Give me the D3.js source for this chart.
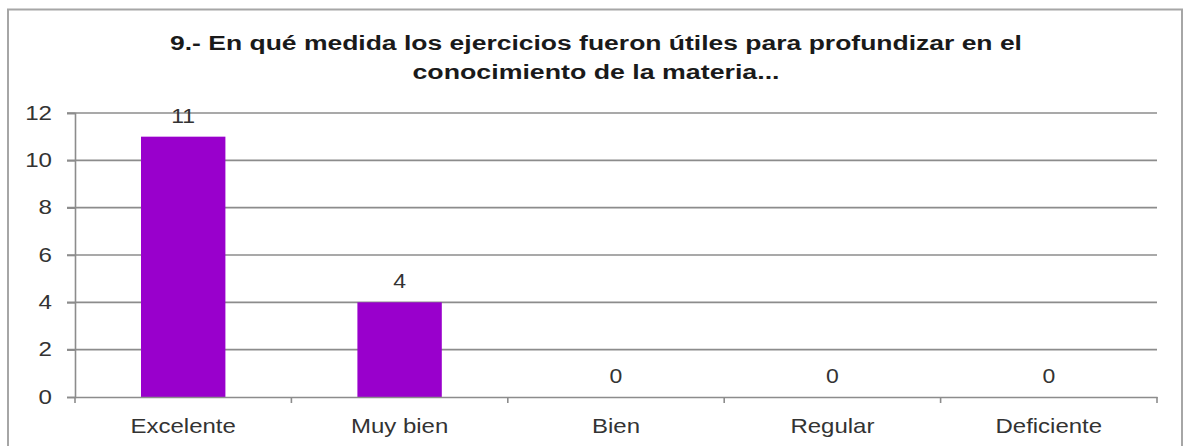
<!DOCTYPE html>
<html><head><meta charset="utf-8">
<script src="https://cdn.jsdelivr.net/npm/d3@7"></script>
<style>
html,body{margin:0;padding:0;background:#fff;}
svg{display:block;font-family:"Liberation Sans",Arial,sans-serif;}
</style></head>
<body>
<svg id="chart" width="1183" height="446"></svg>
<script>
const titleLines = ["9.- En qué medida los ejercicios fueron útiles para profundizar en el", "conocimiento de la materia..."];
const categories = ["Excelente", "Muy bien", "Bien", "Regular", "Deficiente"];
const values = [11, 4, 0, 0, 0];
const yTicks = [0, 2, 4, 6, 8, 10, 12];

const svg = d3.select("#chart");
const W = 1183, H = 446;
const margin = {left: 75, right: 26, top: 113, bottom: 49};
const x0 = margin.left, x1 = W - margin.right, y0 = H - margin.bottom, y1 = margin.top;

// outer frame
svg.append("rect").attr("x", 8).attr("y", 9.5).attr("width", 1174).attr("height", 450)
  .attr("fill", "none").attr("stroke", "#a6a6a6").attr("stroke-width", 2);

const x = d3.scaleBand().domain(categories).range([x0, x1]).paddingInner(0).paddingOuter(0);
const y = d3.scaleLinear().domain([0, 12]).range([y0, y1]);

// gridlines
svg.append("g").selectAll("line").data(yTicks.filter(d => d > 0)).join("line")
  .attr("x1", x0 - 8).attr("x2", x1).attr("y1", d => y(d)).attr("y2", d => y(d))
  .attr("stroke", "#8c8c8c").attr("stroke-width", 1.6);

// y axis
const yAxis = svg.append("g").attr("transform", `translate(${x0},0)`)
  .call(d3.axisLeft(y).tickValues(yTicks).tickSize(8).tickPadding(12).tickFormat(d3.format("d")));
yAxis.select(".domain").attr("stroke", "#8c8c8c").attr("stroke-width", 1.6);
yAxis.selectAll(".tick line").attr("stroke", "#8c8c8c").attr("stroke-width", 1.6);
yAxis.selectAll(".tick text").attr("fill", "#333").attr("font-size", 21)
  .attr("transform", "scale(1.15,1)").attr("dy", "0.3em");

// bars
const barW = x.bandwidth() * 0.39;
svg.append("g").selectAll("rect").data(values).join("rect")
  .attr("x", (d, i) => x(categories[i]) + (x.bandwidth() - barW) / 2)
  .attr("width", barW)
  .attr("y", d => y(d))
  .attr("height", d => y0 - y(d))
  .attr("fill", "#9900cc");

// x axis
const xAxis = svg.append("g").attr("transform", `translate(0,${y0})`)
  .call(d3.axisBottom(x).tickSize(0).tickPadding(0));
xAxis.select(".domain").attr("stroke", "#8c8c8c").attr("stroke-width", 1.6);
xAxis.selectAll(".tick line").remove();
xAxis.selectAll(".tick text").attr("fill", "#333").attr("font-size", 20)
  .attr("y", 36).attr("dy", 0).attr("transform", "scale(1.2,1)");
// category boundary ticks
const bounds = categories.map(c => x(c)).concat([x1]);
svg.append("g").selectAll("line").data(bounds).join("line")
  .attr("x1", d => d).attr("x2", d => d).attr("y1", y0).attr("y2", y0 + 6)
  .attr("stroke", "#8c8c8c").attr("stroke-width", 1.6);

// value labels
svg.append("g").selectAll("text").data(values).join("text")
  .attr("transform", (d, i) => `translate(${x(categories[i]) + x.bandwidth() / 2},${y(d) - 14}) scale(1.15,1)`)
  .attr("text-anchor", "middle").attr("font-size", 20).attr("fill", "#333")
  .text(d => d);

// title
const titleW = [852, 367];
svg.append("g").selectAll("text").data(titleLines).join("text")
  .attr("x", (d, i) => 596 - titleW[i] / 2).attr("y", (d, i) => 50 + i * 29)
  .attr("textLength", (d, i) => titleW[i]).attr("lengthAdjust", "spacingAndGlyphs")
  .attr("font-size", 20).attr("font-weight", "bold").attr("fill", "#1a1a1a")
  .text(d => d);
</script>
</body></html>
